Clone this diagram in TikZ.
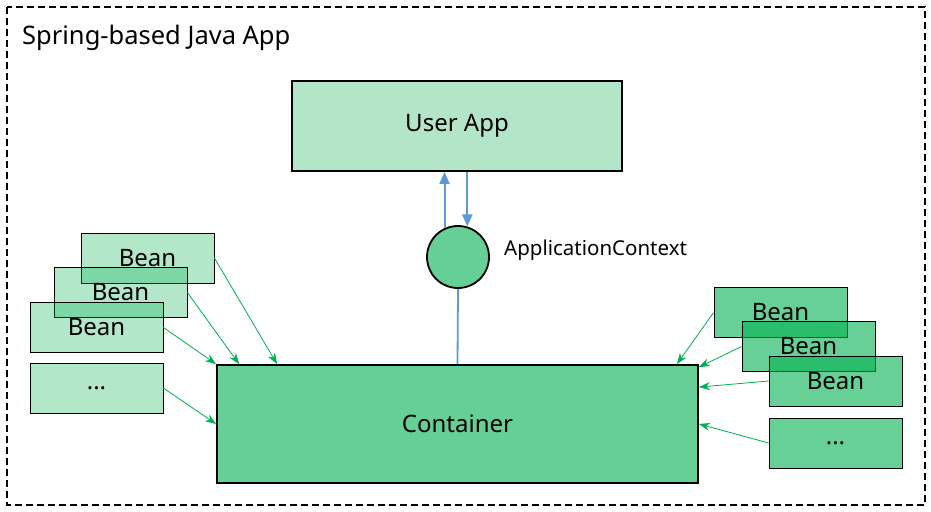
\documentclass[tikz,border=0pt]{standalone}
\usepackage{fontspec}
\setmainfont{Noto Sans}
\usepackage{tikz}
\usepackage{xcolor}
\usetikzlibrary{arrows.meta,positioning}
\definecolor{springgreen}{RGB}{0, 176, 80}
\definecolor{lightgreen}{RGB}{179, 230, 200}
\definecolor{midgreen}{RGB}{102, 207, 150}
\definecolor{linkblue}{RGB}{91, 155, 213}
\newcommand{\bigtext}{\fontsize{24}{28}\selectfont}

\begin{document}
\begin{tikzpicture}[x=1pt, y=-1pt,
    mainbox/.style={draw=black, line width=1.8pt, font=\bigtext, inner sep=0pt},
    beanbox/.style={draw=black, line width=0.8pt, fill=springgreen, minimum width=133pt,
        minimum height=50pt, font=\bigtext, inner sep=0pt},
    beanleft/.style={beanbox, fill opacity=0.3, text opacity=1},
    beanright/.style={beanbox, fill opacity=0.6, text opacity=1},
    feed/.style={springgreen, line width=0.8pt, -{Stealth[length=11pt, width=8pt]}},
    ctxlink/.style={linkblue, line width=2pt, -{Triangle[length=12pt, width=10pt]}}]
    \useasboundingbox (0,0) rectangle (931,511);
    \draw[line width=1.5pt, dash pattern=on 7pt off 4pt] (7,7) rectangle (925,505);
    \node[anchor=west, font=\fontsize{25.5}{30}\selectfont, inner sep=0pt] (title) at (22,38) {Spring-based Java App};

    % user side
    \node[mainbox, fill=lightgreen, minimum width=330pt, minimum height=90pt] (app) at (457,126) {User App};
    \node[circle, draw=black, line width=1.8pt, fill=midgreen, minimum size=62pt] (ctx) at (458,257) {};
    \node[anchor=west, font=\fontsize{20.5}{24}\selectfont, inner sep=0pt] (ctxlabel) at (504,250) {ApplicationContext};
    \node[mainbox, fill=midgreen, minimum width=481pt, minimum height=118pt] (box) at (457.5,424) {Container};

    \draw[ctxlink] (ctx.115) -- (ctx.115 |- app.south);
    \draw[ctxlink] (ctx.73 |- app.south) -- (ctx.73);
    \draw[linkblue, line width=1.8pt] (ctx.south) -- (box.north);

    % beans on the left
    \node[beanleft] (beanA) at (147.5,258) {Bean};
    \node[beanleft] (beanB) at (120.5,292.5) {Bean};
    \node[beanleft] (beanC) at (96.5,327.5) {Bean};
    \node[beanleft] (beanD) at (96.5,388) {...};

    % beans on the right
    \node[beanright] (beanE) at (780.5,312.5) {Bean};
    \node[beanright] (beanF) at (808.5,346.5) {Bean};
    \node[beanright] (beanG) at (835.5,381) {Bean};
    \node[beanright] (beanH) at (835.5,443) {...};

    \draw[feed] (beanA.east) -- ([xshift=61pt]box.north west);
    \draw[feed] (beanB.east) -- ([xshift=23pt]box.north west);
    \draw[feed] (beanC.east) -- (box.north west);
    \draw[feed] (beanD.east) -- (box.west);
    \draw[feed] (beanE.west) -- ([xshift=-22pt]box.north east);
    \draw[feed] (beanF.west) -- ([yshift=-3pt]box.north east);
    \draw[feed] (beanG.west) -- ([yshift=-23pt]box.north east);
    \draw[feed] (beanH.west) -- (box.east);
\end{tikzpicture}
\end{document}
